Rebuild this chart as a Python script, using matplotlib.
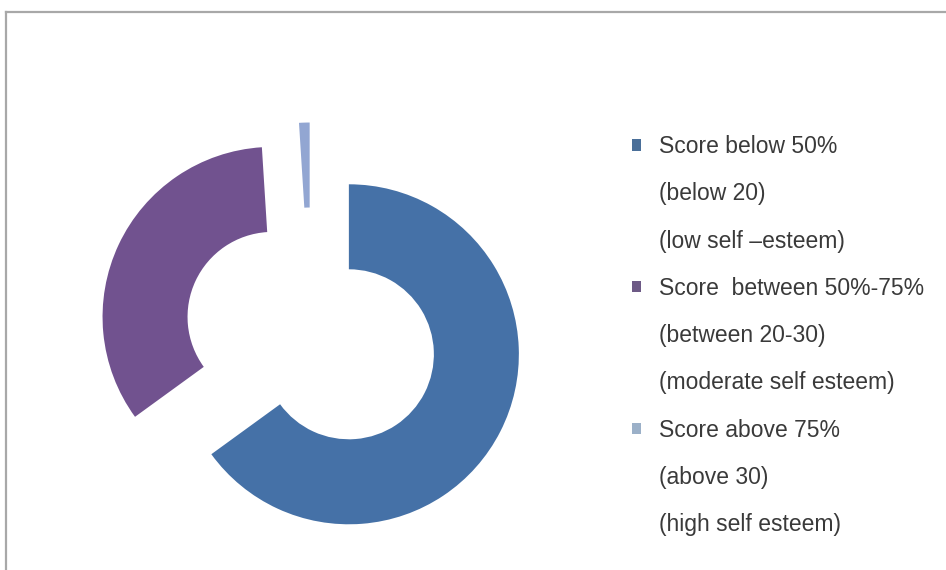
import matplotlib.pyplot as plt
from matplotlib.patches import Patch
from matplotlib.lines import Line2D

# Self-esteem score groups
categories = ['Score below 50%', 'Score  between 50%-75%', 'Score above 75%']
sub_labels = [
    ['(below 20)', '(low self \u2013esteem)'],
    ['(between 20-30)', '(moderate self esteem)'],
    ['(above 30)', '(high self esteem)'],
]
shares = [65, 34, 1]
colors = ['#4571a7', '#71528f', '#92a6d2']
legend_colors = ['#4a6f99', '#6d5a86', '#9bb0c8']

plt.rcParams['font.family'] = ['Liberation Sans', 'DejaVu Sans']

fig = plt.figure(figsize=(9.46, 5.70), dpi=100)
fig.patch.set_facecolor('white')

# chart frame (top and left edges visible)
fig.add_artist(Line2D([6 / 946, 6 / 946], [0, 1 - 12 / 570], transform=fig.transFigure,
                      color='#a8a8a8', lw=1.6))
fig.add_artist(Line2D([6 / 946, 1], [1 - 12 / 570, 1 - 12 / 570], transform=fig.transFigure,
                      color='#a8a8a8', lw=1.6))

# donut, exploded slices
cx, cy, rad = 311, 335, 170
half = 1.35 * rad
ax = fig.add_axes([(cx - half) / 946, (570 - cy - half) / 570, 2 * half / 946, 2 * half / 570])
ax.pie(shares, colors=colors, startangle=90, counterclock=False,
       explode=[0.25] * len(shares),
       wedgeprops=dict(width=0.5, linewidth=0))
ax.set_xlim(-1.35, 1.35)
ax.set_ylim(-1.35, 1.35)
ax.set_aspect('equal')
ax.axis('off')

# legend: one swatch per group, followed by its description lines
handles, labels = [], []
for cat, subs, col in zip(categories, sub_labels, legend_colors):
    handles.append(Patch(facecolor=col, edgecolor='none'))
    labels.append(cat)
    for s in subs:
        handles.append(Patch(facecolor='none', edgecolor='none'))
        labels.append(s)

leg = fig.legend(handles, labels, loc='upper left', bbox_to_anchor=(632 / 946, 1 - 135 / 570),
                 frameon=False, fontsize=16.5, handlelength=0.4, handleheight=0.4,
                 handletextpad=0.78, labelspacing=1.06, borderaxespad=0, borderpad=0)
for t in leg.get_texts():
    t.set_color('#3a3a3a')

plt.savefig('out.png', dpi=100, facecolor='white')
plt.close()
